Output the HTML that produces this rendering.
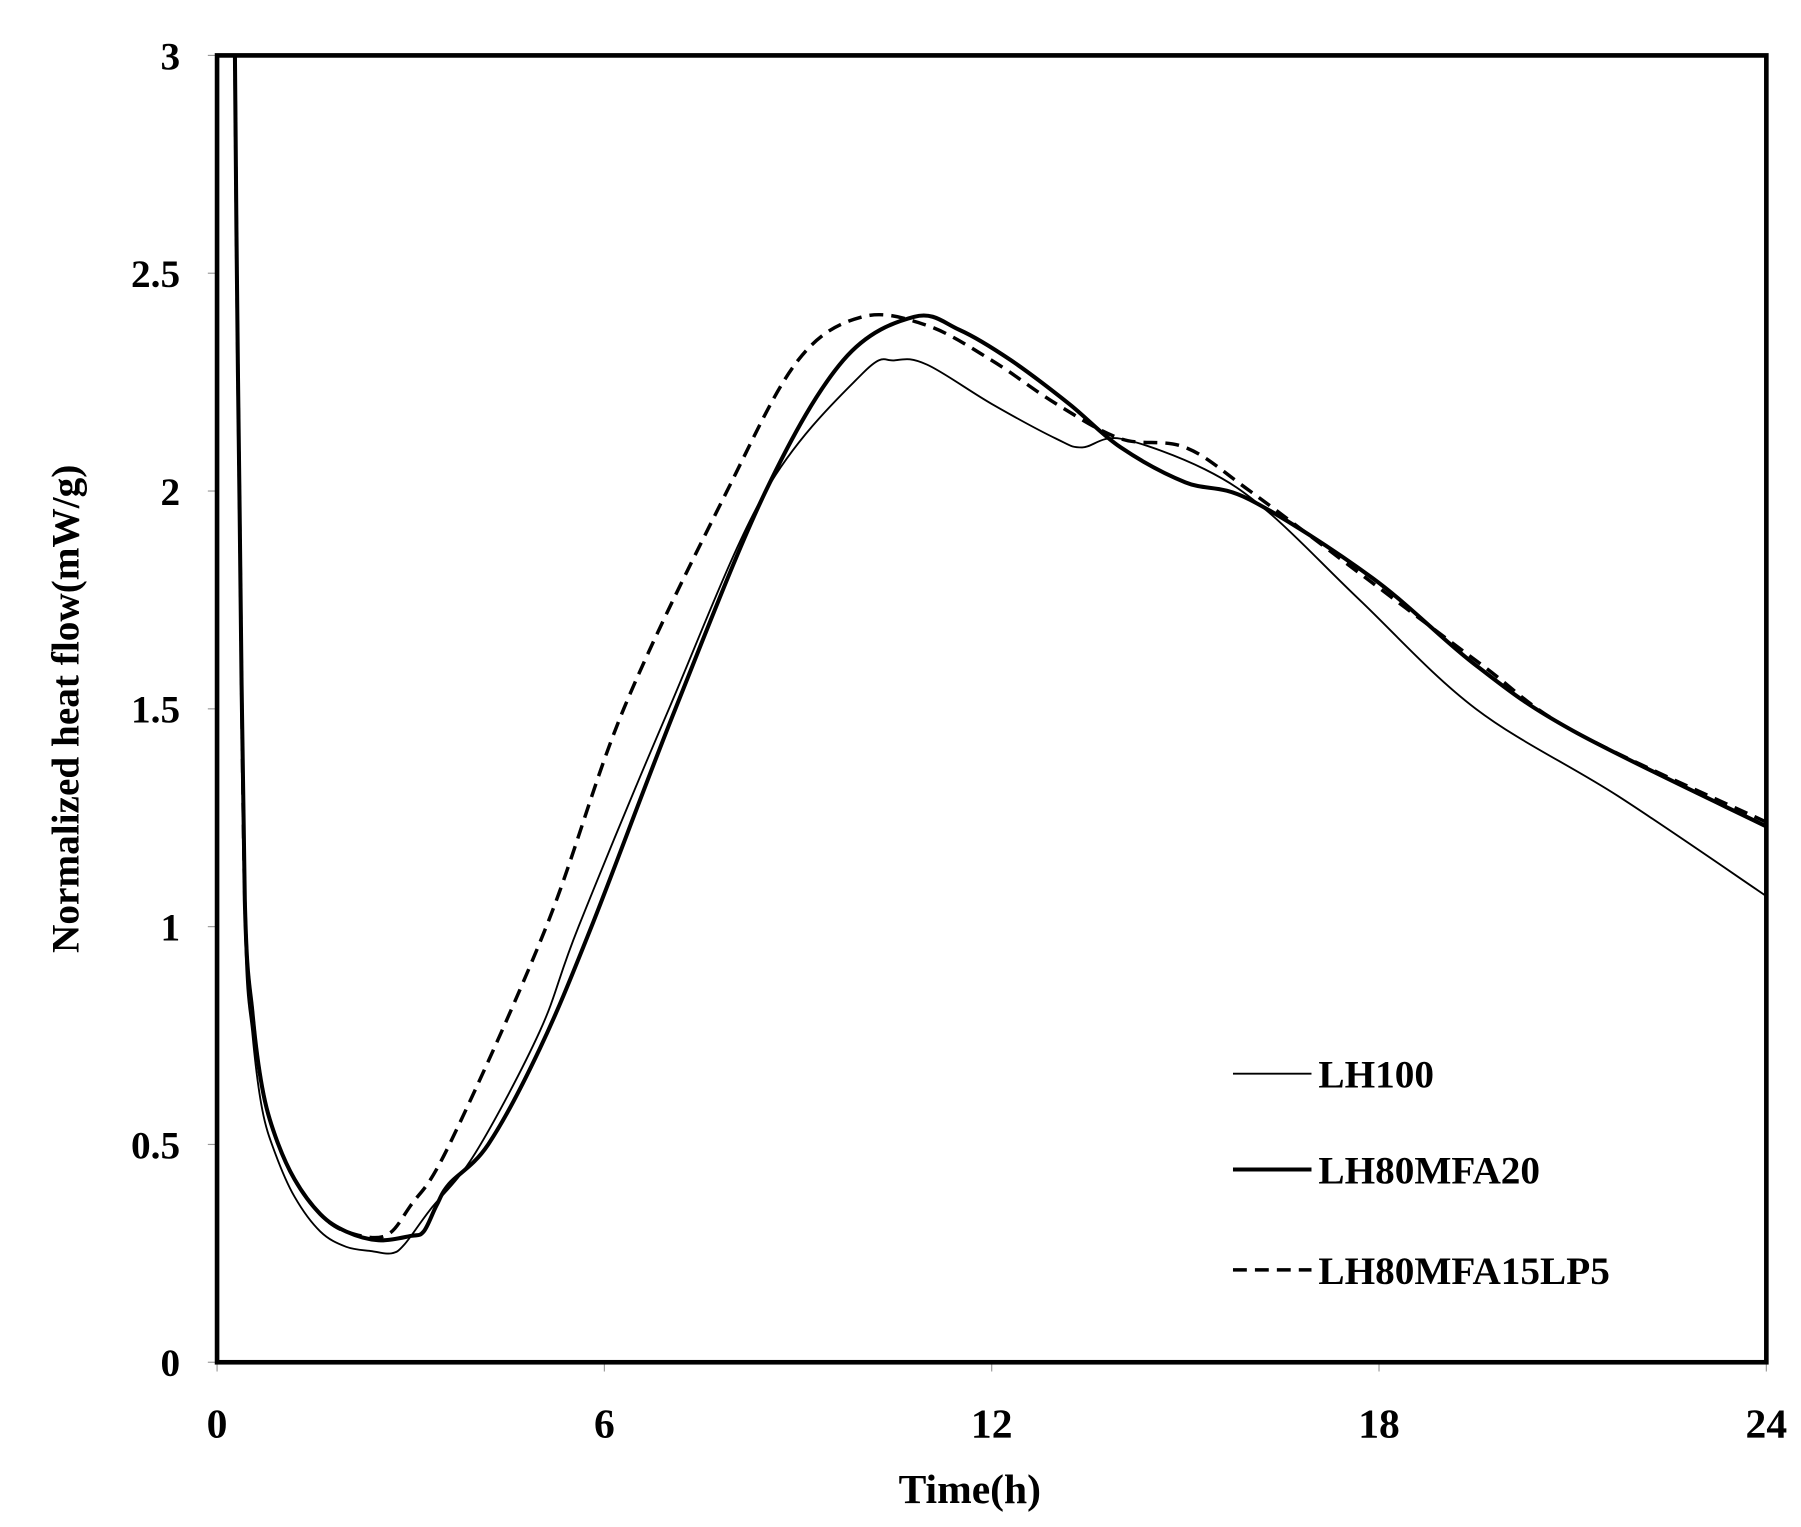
<!DOCTYPE html>
<html><head><meta charset="utf-8"><style>
html,body{margin:0;padding:0;background:#fff}
svg{display:block}
text{font-family:"Liberation Serif",serif;font-weight:bold;fill:#000}
</style></head><body>
<svg id="chart" width="1801" height="1527" viewBox="0 0 1560 1322.7" xmlns="http://www.w3.org/2000/svg">
<defs><clipPath id="clip"><rect x="188" y="48" width="1342" height="1132"/></clipPath></defs>
<g id="ticks"></g>
<g id="series" clip-path="url(#clip)"></g>
<rect x="188" y="48" width="1342" height="1132" fill="none" stroke="#000" stroke-width="4"/>
<text x="840" y="1302" font-size="36" text-anchor="middle">Time(h)</text>
<text transform="translate(68,614) rotate(-90)" font-size="34" text-anchor="middle">Normalized  heat flow(mW/g)</text>
<g id="legend"></g>
</svg>
<script>
const xTicks=[0,6,12,18,24];
const yTicks=[0,0.5,1,1.5,2,2.5,3];
const yTickLabels=["0","0.5","1","1.5","2","2.5","3"];
const seriesNames=["LH100","LH80MFA20","LH80MFA15LP5"];
const lh100T=[0.25,0.3,0.35,0.43,0.55,0.7,0.9,1.2,1.6,2.0,2.4,2.7,2.9,3.3,4,5,5.6,7,8.5,10,10.5,11,12,13,13.4,14,15.3,16.3,17.7,19.5,21.7,24];
const lh100V=[3.5,2.6,1.9,1.0,0.75,0.58,0.48,0.38,0.3,0.265,0.255,0.25,0.27,0.35,0.48,0.76,1.0,1.5,2.0,2.27,2.3,2.29,2.2,2.12,2.1,2.12,2.05,1.95,1.75,1.5,1.3,1.07];
const lh80T=[0.25,0.3,0.35,0.43,0.55,0.7,0.9,1.2,1.6,2.0,2.5,3.0,3.2,3.4,3.6,4.2,5,5.8,7.1,8.5,9.7,10.8,11.5,12.3,13.2,14,15,16,17.9,19.5,21,24];
const lh80V=[3.5,2.6,1.95,1.06,0.8,0.63,0.52,0.42,0.34,0.3,0.28,0.29,0.3,0.36,0.41,0.5,0.72,1.0,1.5,2.0,2.3,2.4,2.37,2.3,2.2,2.1,2.02,1.98,1.8,1.6,1.45,1.23];
const lh15T=[0.25,0.3,0.35,0.43,0.55,0.7,0.9,1.2,1.6,2.0,2.6,3.0,3.6,5.1,6.3,7.9,9,10,11,12,13,14,15,16,17.8,19.6,21,24];
const lh15V=[3.5,2.6,1.95,1.06,0.8,0.63,0.52,0.42,0.34,0.3,0.29,0.36,0.5,1.0,1.5,2.0,2.3,2.4,2.38,2.3,2.2,2.12,2.1,2.0,1.8,1.6,1.45,1.24];
const X0=188,X1=1530,Y0=1180,Y1=48;
const sx=t=>X0+(t/24)*(X1-X0);
const sy=v=>Y0-(v/3)*(Y0-Y1);
const NS="http://www.w3.org/2000/svg";
function mk(tag,attrs,parent){const e=document.createElementNS(NS,tag);for(const k in attrs)e.setAttribute(k,attrs[k]);parent.appendChild(e);return e;}
const tg=document.getElementById('ticks');
xTicks.forEach(t=>{
 const l=mk('line',{x1:sx(t),x2:sx(t),y1:Y0,y2:Y0+8,stroke:'#999','stroke-width':1},tg);
 
 
 const tx=mk('text',{x:sx(t),y:Y0+65,'font-size':36,'text-anchor':'middle'},tg);
 tx.textContent=String(t);
 
 
});
yTicks.forEach((v,i)=>{
 const l=mk('line',{x1:X0-8,x2:X0,y1:sy(v),y2:sy(v),stroke:'#999','stroke-width':1},tg);
 
 
 const tx=mk('text',{x:X0-32,y:sy(v)+12,'font-size':34,'text-anchor':'end'},tg);
 tx.textContent=yTickLabels[i];
 
 
});
function pathD(T,V){
 const p=T.map((t,i)=>[sx(t),sy(V[i])]);
 let d=`M${p[0][0]},${p[0][1]}`;
 for(let i=0;i<p.length-1;i++){
  const a=p[Math.max(0,i-1)],b=p[i],c=p[i+1],e=p[Math.min(p.length-1,i+2)];
  const c1=[b[0]+(c[0]-a[0])/6,b[1]+(c[1]-a[1])/6],c2=[c[0]-(e[0]-b[0])/6,c[1]-(e[1]-b[1])/6];
  d+=` C${c1[0]},${c1[1]} ${c2[0]},${c2[1]} ${c[0]},${c[1]}`;
 }
 return d;
}
const sg=document.getElementById('series');
const styles=[{w:1.6,dash:''},{w:3.5,dash:''},{w:3,dash:'12,7'}];
const data=[[lh100T,lh100V],[lh80T,lh80V],[lh15T,lh15V]];
const names=['series-lh100','series-lh80mfa20','series-lh80mfa15lp5'];
data.forEach((d,i)=>{
 const p=mk('path',{d:pathD(d[0],d[1]),fill:'none',stroke:'#000','stroke-width':styles[i].w,'stroke-dasharray':styles[i].dash},sg);
 
 
});
const lg=document.getElementById('legend');
const ly=[930,1013,1100];
seriesNames.forEach((n,i)=>{
 const l=mk('line',{x1:1068,x2:1136,y1:ly[i],y2:ly[i],stroke:'#000','stroke-width':styles[i].w,'stroke-dasharray':styles[i].dash},lg);
 
 
 const t=mk('text',{x:1142,y:ly[i]+12,'font-size':34},lg);
 t.textContent=n;
 
 
});
</script>
</body></html>
